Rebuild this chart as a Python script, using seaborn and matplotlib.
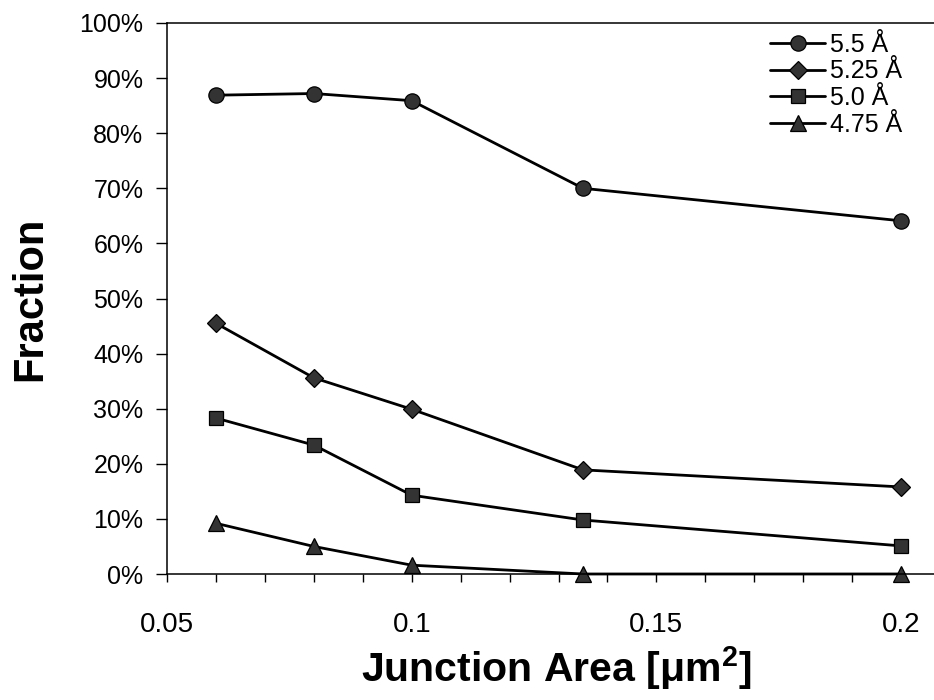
import numpy as np
import pandas as pd
import matplotlib
matplotlib.use("Agg")
import matplotlib.pyplot as plt
from matplotlib.ticker import FixedLocator, MultipleLocator, FuncFormatter
import seaborn as sns

# Junction area [um^2] and fraction per barrier thickness
junction_area = [0.06, 0.08, 0.10, 0.135, 0.20]
frac_5_5 = [0.869, 0.872, 0.859, 0.700, 0.641]
frac_5_25 = [0.455, 0.356, 0.299, 0.189, 0.158]
frac_5_0 = [0.283, 0.234, 0.143, 0.098, 0.051]
frac_4_75 = [0.092, 0.050, 0.016, 0.0, 0.0]
series_labels = ["5.5 Å", "5.25 Å", "5.0 Å", "4.75 Å"]
y_ticks = [0.0, 0.1, 0.2, 0.3, 0.4, 0.5, 0.6, 0.7, 0.8, 0.9, 1.0]
x_ticks = [0.05, 0.10, 0.15, 0.20]
x_tick_labels = ["0.05", "0.1", "0.15", "0.2"]

df = pd.DataFrame({
    "area": junction_area * 4,
    "fraction": frac_5_5 + frac_5_25 + frac_5_0 + frac_4_75,
    "series": sum([[s] * len(junction_area) for s in series_labels], []),
})

sns.set_theme(style="ticks")
plt.rcParams["font.family"] = ["Liberation Sans", "DejaVu Sans"]
plt.rcParams["text.color"] = "black"
plt.rcParams["axes.labelcolor"] = "black"
plt.rcParams["mathtext.fontset"] = "custom"
plt.rcParams["mathtext.rm"] = "Liberation Sans"
plt.rcParams["mathtext.bf"] = "Liberation Sans:bold"

W, H = 934, 700
fig = plt.figure(figsize=(W / 100, H / 100), dpi=100)
left, right, top, bottom = 167, 934, 23, 574
ax = fig.add_axes([left / W, 1 - bottom / H, (right - left) / W, (bottom - top) / H])

markers = {"5.5 Å": "o", "5.25 Å": "D", "5.0 Å": "s", "4.75 Å": "^"}
sizes = {"5.5 Å": 11, "5.25 Å": 8.8, "5.0 Å": 10.5, "4.75 Å": 11.5}
palette = {s: "black" for s in series_labels}

sns.lineplot(data=df, x="area", y="fraction", hue="series", style="series",
             hue_order=series_labels, style_order=series_labels,
             palette=palette, markers=markers, dashes=False,
             linewidth=2.0, ax=ax, legend=False)

for line, s in zip(ax.get_lines(), series_labels):
    line.set_marker(markers[s])
    line.set_markersize(sizes[s])
    line.set_markerfacecolor("#333333")
    line.set_markeredgecolor("black")
    line.set_markeredgewidth(0.9)
    line.set_clip_on(False)

px_per_unit = (411.7 - 167) / 0.05
ax.set_xlim(0.05, 0.05 + (right - left) / px_per_unit)
ax.set_ylim(0, 1)

ax.xaxis.set_major_locator(FixedLocator(x_ticks))
ax.set_xticklabels(x_tick_labels)
ax.xaxis.set_minor_locator(MultipleLocator(0.01))
ax.yaxis.set_major_locator(FixedLocator(y_ticks))
ax.yaxis.set_major_formatter(FuncFormatter(lambda v, p: f"{v * 100:.0f}%"))

ax.tick_params(axis="x", which="both", direction="out", length=6, width=1,
               color="black", labelsize=20, pad=21, labelcolor="black")
ax.tick_params(axis="y", which="major", direction="out", length=8, width=1,
               color="black", labelsize=18, pad=9, labelcolor="black")

for side in ["left", "bottom", "top"]:
    ax.spines[side].set_visible(True)
    ax.spines[side].set_color("black")
    ax.spines[side].set_linewidth(1.1)
ax.spines["right"].set_visible(False)

ax.set_xlabel("Junction Area [μm$^{\\mathbf{2}}$]", fontsize=29.5, fontweight="bold",
              color="black", va="center")
ax.xaxis.set_label_coords((556 - left) / (right - left), -(668 - bottom) / (bottom - top))
ax.set_ylabel("Fraction", fontsize=30, fontweight="bold", color="black", va="center")
ax.yaxis.set_label_coords(-(left - 30) / (right - left), 0.5)

leg = ax.legend(handles=ax.get_lines(), labels=series_labels, loc="upper left",
                bbox_to_anchor=(770 / W, 1 - 33 / H), bbox_transform=fig.transFigure,
                frameon=False, fontsize=18, handlelength=2.2, handletextpad=0.2,
                labelspacing=0.1, borderpad=0, borderaxespad=0, numpoints=1)
for t in leg.get_texts():
    t.set_color("black")

fig.savefig("out.png", dpi=100, facecolor="white")
